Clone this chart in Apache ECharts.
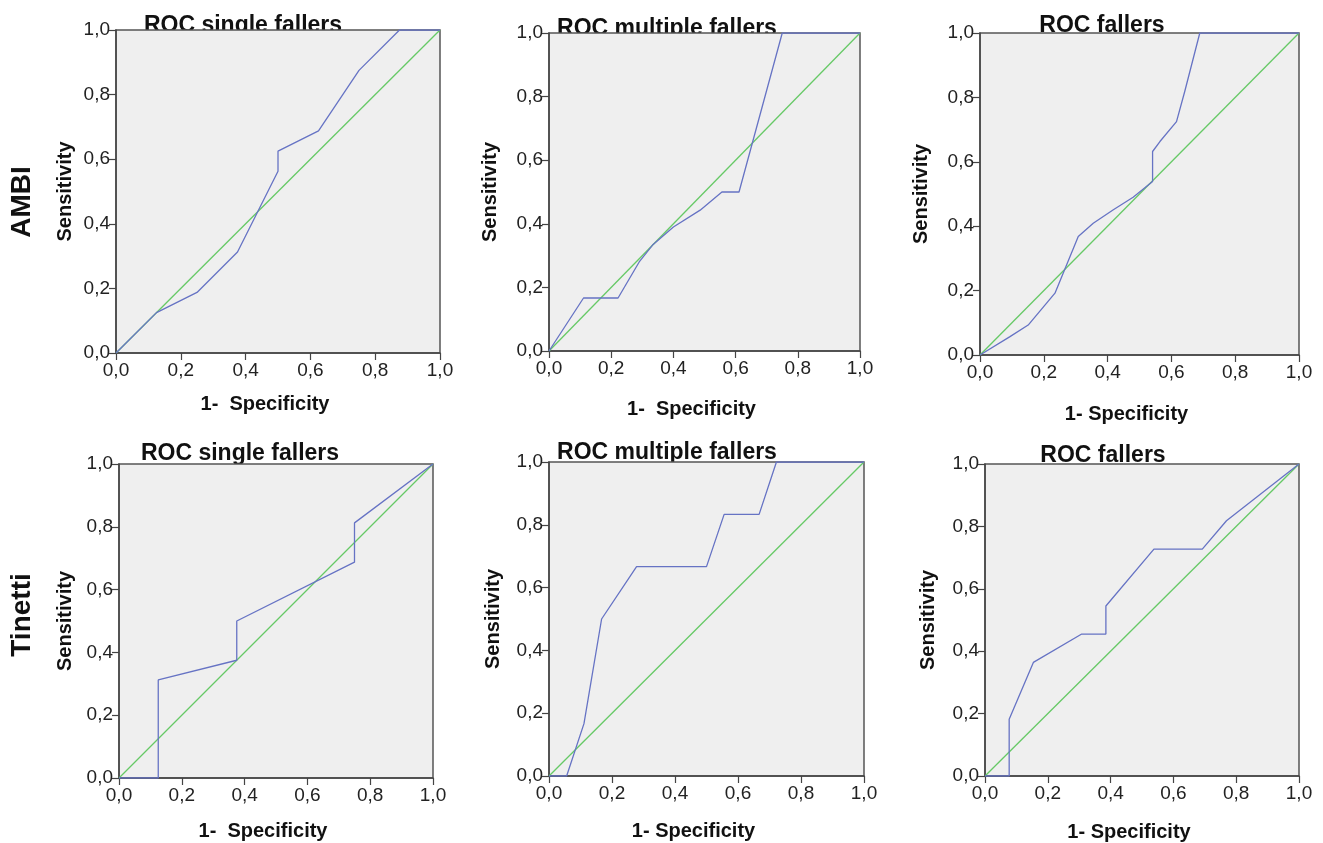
<!DOCTYPE html>
<html>
<head>
<meta charset="utf-8">
<script src="https://cdn.jsdelivr.net/npm/echarts@6/dist/echarts.min.js"></script>
<style>
  html, body { margin: 0; padding: 0; background: #fff; }
  #chart { width: 1323px; height: 843px; }
</style>
</head>
<body>
<div id="chart"></div>
<script>
// ROC curves as [1 - specificity, sensitivity] pairs
const ambiSingle = [[0, 0], [0.125, 0.125], [0.25, 0.1875], [0.375, 0.3125], [0.5, 0.5625], [0.5, 0.625], [0.625, 0.6875], [0.75, 0.875], [0.875, 1], [1, 1]]
const ambiMultiple = [[0, 0], [0.111, 0.1667], [0.222, 0.1667], [0.29, 0.28], [0.333, 0.333], [0.4, 0.39], [0.486, 0.443], [0.556, 0.5], [0.611, 0.5], [0.75, 1], [1, 1]]
const ambiFallers = [[0, 0], [0.094, 0.057], [0.151, 0.093], [0.235, 0.192], [0.308, 0.368], [0.355, 0.409], [0.418, 0.451], [0.48, 0.49], [0.541, 0.539], [0.541, 0.632], [0.564, 0.663], [0.616, 0.725], [0.642, 0.819], [0.689, 1], [1, 1]]
const tinettiSingle = [[0, 0], [0.125, 0], [0.125, 0.3125], [0.375, 0.375], [0.375, 0.5], [0.75, 0.6875], [0.75, 0.8125], [1, 1]]
const tinettiMultiple = [[0, 0], [0.056, 0], [0.111, 0.1667], [0.167, 0.5], [0.278, 0.6667], [0.5, 0.6667], [0.556, 0.8333], [0.667, 0.8333], [0.722, 1], [1, 1]]
const tinettiFallers = [[0, 0], [0.077, 0], [0.077, 0.182], [0.154, 0.364], [0.308, 0.455], [0.385, 0.455], [0.385, 0.545], [0.538, 0.727], [0.692, 0.727], [0.769, 0.818], [1, 1]]
const referenceLine = [[0, 0], [1, 1]]

const tickLabels = ['0,0', '0,2', '0,4', '0,6', '0,8', '1,0']
const panelTitles = ['ROC single fallers', 'ROC multiple fallers', 'ROC fallers', 'ROC single fallers', 'ROC multiple fallers', 'ROC fallers']
const xNames = ['1-  Specificity', '1-  Specificity', '1- Specificity', '1-  Specificity', '1- Specificity', '1- Specificity']
const rowLabels = ['AMBI', 'Tinetti']
const curves = [ambiSingle, ambiMultiple, ambiFallers, tinettiSingle, tinettiMultiple, tinettiFallers]

// pixel layout of each panel
const layout = [
  { left: 116, top: 30, width: 324, height: 323, titleY: 26, yGap: 41, xGap: 41 },
  { left: 549, top: 33, width: 311, height: 318, titleY: 29, yGap: 49, xGap: 48 },
  { left: 980, top: 33, width: 319, height: 322, titleY: 26, yGap: 49, xGap: 49 },
  { left: 119, top: 464, width: 314, height: 314, titleY: 454, yGap: 44, xGap: 43 },
  { left: 549, top: 462, width: 315, height: 314, titleY: 453, yGap: 46, xGap: 45 },
  { left: 985, top: 464, width: 314, height: 314, titleY: 456, yGap: 47, xGap: 46 },
]
const titleCenters = [243, 667, 1102, 240, 667, 1103]

const FONT = '"Liberation Sans", Arial, sans-serif'
const AXIS_COLOR = '#444'

function fmt(v) {
  return tickLabels[Math.round(v / 0.2)]
}

const chart = echarts.init(document.getElementById('chart'))

const grid = layout.map((p) => ({
  left: p.left, top: p.top, width: p.width, height: p.height,
  show: true, backgroundColor: '#efefef', borderColor: '#555', borderWidth: 1.5, z: 1,
}))

const xAxis = layout.map((p, i) => ({
  gridIndex: i, type: 'value', min: 0, max: 1, interval: 0.2, z: 2,
  name: xNames[i], nameLocation: 'middle', nameGap: p.xGap,
  nameTextStyle: { fontFamily: FONT, fontSize: 20, fontWeight: 'bold', color: '#111', padding: [0, 26, 0, 0] },
  axisLine: { lineStyle: { color: AXIS_COLOR, width: 1.5 } },
  axisTick: { show: true, length: 7, lineStyle: { color: AXIS_COLOR, width: 1.2 } },
  axisLabel: { formatter: fmt, fontFamily: FONT, fontSize: 19, color: '#222', margin: 8 },
  splitLine: { show: false },
}))

const yAxis = layout.map((p, i) => ({
  gridIndex: i, type: 'value', min: 0, max: 1, interval: 0.2, z: 2,
  name: 'Sensitivity', nameLocation: 'middle', nameGap: p.yGap,
  nameTextStyle: { fontFamily: FONT, fontSize: 20, fontWeight: 'bold', color: '#111' },
  axisLine: { lineStyle: { color: AXIS_COLOR, width: 1.5 } },
  axisTick: { show: true, length: 7, lineStyle: { color: AXIS_COLOR, width: 1.2 } },
  axisLabel: { formatter: fmt, fontFamily: FONT, fontSize: 19, color: '#222', margin: 6 },
  splitLine: { show: false },
}))

const series = []
curves.forEach((data, i) => {
  series.push({
    type: 'line', xAxisIndex: i, yAxisIndex: i, data: referenceLine, z: 3,
    showSymbol: false, silent: true,
    lineStyle: { color: '#66c966', width: 1.3 },
  })
  series.push({
    type: 'line', xAxisIndex: i, yAxisIndex: i, data: data, z: 4,
    showSymbol: false, silent: true,
    lineStyle: { color: '#6673c4', width: 1.3 },
  })
})

const graphic = []
layout.forEach((p, i) => {
  graphic.push({
    type: 'text', z: 0, x: titleCenters[i], y: p.titleY,
    style: { text: panelTitles[i], font: 'bold 23px ' + FONT, fill: '#111', align: 'center', verticalAlign: 'middle' },
  })
})
const rowCenters = [202, 615]
rowLabels.forEach((label, i) => {
  graphic.push({
    type: 'text', z: 0, x: 22, y: rowCenters[i], rotation: Math.PI / 2,
    style: { text: label, font: 'bold 28px ' + FONT, fill: '#111', align: 'center', verticalAlign: 'middle' },
  })
})

chart.setOption({
  backgroundColor: '#fff',
  animation: false,
  grid,
  xAxis,
  yAxis,
  series,
  graphic,
})
</script>
</body>
</html>
